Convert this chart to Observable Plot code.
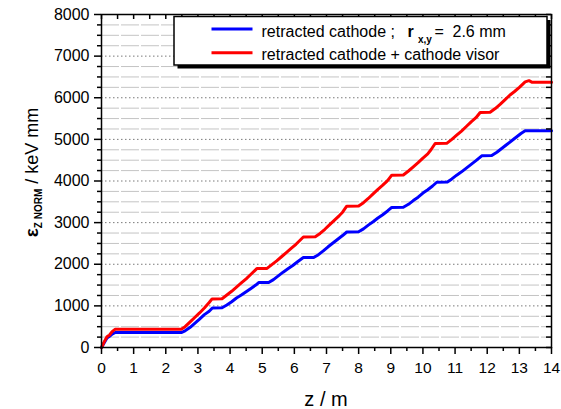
<!DOCTYPE html>
<html>
<head>
<meta charset="utf-8">
<script src="https://cdn.jsdelivr.net/npm/d3@7"></script>
<script src="https://cdn.jsdelivr.net/npm/@observablehq/plot@0.6"></script>
<style>
  html, body { margin: 0; padding: 0; background: #fff; }
  svg { display: block; }
</style>
</head>
<body>
<div id="chart"></div>
<script>
// ---- data ----
const seriesNames = ["retracted cathode ;", "retracted cathode + cathode visor"];
const seriesColors = ["#0000ff", "#ff0000"];

const zBlue = [0,0.08,0.17,0.25,0.33,0.43,2.48,2.6,2.75,2.9,3.05,3.2,3.35,3.45,3.75,3.9,4.05,4.2,4.35,4.5,4.65,4.8,4.89,5.2,5.35,5.5,5.65,5.8,5.95,6.1,6.28,6.6,6.75,6.9,7.05,7.2,7.35,7.5,7.63,8.0,8.15,8.3,8.45,8.6,8.75,8.9,9.03,9.39,9.55,9.7,9.85,10.0,10.15,10.3,10.43,10.76,10.9,11.05,11.2,11.35,11.5,11.65,11.83,12.14,12.3,12.45,12.6,12.75,12.9,13.05,13.18,14];
const emitBlue = [0,110,230,270,320,360,360,400,480,580,680,790,870,950,955,1020,1100,1190,1260,1340,1420,1500,1560,1560,1630,1720,1810,1890,1970,2060,2160,2160,2230,2320,2420,2510,2600,2690,2775,2780,2850,2940,3020,3110,3190,3280,3365,3370,3440,3530,3610,3710,3790,3880,3970,3975,4050,4140,4220,4310,4400,4490,4605,4610,4690,4780,4870,4960,5050,5140,5205,5205];

const zRed = [0,0.08,0.17,0.25,0.33,0.43,2.48,2.6,2.75,2.9,3.05,3.2,3.35,3.44,3.75,3.9,4.05,4.2,4.35,4.5,4.65,4.84,5.15,5.3,5.45,5.6,5.75,5.9,6.05,6.28,6.65,6.8,6.95,7.1,7.25,7.4,7.5,7.63,8.0,8.15,8.3,8.45,8.6,8.75,8.9,9.03,9.39,9.55,9.7,9.85,10.0,10.15,10.25,10.38,10.74,10.9,11.05,11.2,11.35,11.5,11.65,11.78,12.09,12.25,12.4,12.55,12.7,12.85,13.0,13.18,13.3,13.4,14];
const emitRed = [0,130,260,300,380,440,440,500,610,720,830,950,1080,1168,1170,1260,1350,1450,1550,1650,1760,1900,1900,1990,2080,2180,2280,2380,2480,2655,2660,2740,2840,2950,3060,3170,3250,3395,3400,3480,3580,3690,3800,3900,4010,4140,4145,4240,4340,4440,4550,4650,4750,4900,4905,5000,5100,5200,5310,5420,5520,5645,5650,5740,5840,5950,6060,6150,6250,6380,6410,6370,6370];

const xMajorTicks = [0,1,2,3,4,5,6,7,8,9,10,11,12,13,14];
const xMinorTicks = [0.5,1.5,2.5,3.5,4.5,5.5,6.5,7.5,8.5,9.5,10.5,11.5,12.5,13.5];
const yMajorTicks = [0,1000,2000,3000,4000,5000,6000,7000,8000];
const yMinorTicks = [250,500,750,1250,1500,1750,2250,2500,2750,3250,3500,3750,4250,4500,4750,5250,5500,5750,6250,6500,6750,7250,7500,7750];
const yGridMajor = [1000,2000,3000,4000,5000,6000,7000];

const xLabel = "z / m";
const yLabelMain = "ε";
const yLabelSub = "Z NORM";
const yLabelRest = " / keV mm";
const legendRadius = "2.6 mm";

const blue = zBlue.map((z, i) => ({z, e: emitBlue[i]}));
const red = zRed.map((z, i) => ({z, e: emitRed[i]}));

const W = 561, H = 409;
const mL = 101, mR = 10, mT = 14, mB = 62;
const pw = W - mL - mR, ph = H - mT - mB;
const font = "'Liberation Sans', Arial, sans-serif";

const svg = Plot.plot({
  width: W, height: H,
  marginLeft: mL, marginRight: mR, marginTop: mT, marginBottom: mB,
  style: {fontFamily: font, background: "#fff", color: "#000"},
  x: {domain: [0, 14]},
  y: {domain: [0, 8000]},
  marks: [
    Plot.ruleY(yMinorTicks, {stroke: "#c4c4c4", strokeWidth: 1, strokeDasharray: "18,2"}),
    Plot.ruleY(yGridMajor, {stroke: "#7a7a7a", strokeWidth: 1, strokeDasharray: "1.5,2.5"}),
    Plot.line(blue, {x: "z", y: "e", stroke: seriesColors[0], strokeWidth: 3, strokeLinejoin: "round"}),
    Plot.line(red, {x: "z", y: "e", stroke: seriesColors[1], strokeWidth: 3, strokeLinejoin: "round"}),
    // left axis
    Plot.axisY(yMajorTicks, {anchor: "left", tickSize: 7, tickPadding: 5, fontSize: 16, strokeWidth: 1.5, tickFormat: d => String(d), label: null}),
    Plot.axisY(yMinorTicks, {anchor: "left", tickSize: 4, strokeWidth: 1.5, tickFormat: () => "", label: null}),
    // bottom axis
    Plot.axisX(xMajorTicks, {anchor: "bottom", tickSize: 7, tickPadding: 7, fontSize: 15.5, strokeWidth: 1.5, tickFormat: d => String(d), label: null}),
    Plot.axisX(xMinorTicks, {anchor: "bottom", tickSize: 4, strokeWidth: 1.5, tickFormat: () => "", label: null}),
    // inward ticks on right and top
    Plot.tickY(yMajorTicks.concat(yMinorTicks), {y: d => d, stroke: "#000", strokeWidth: 1.5, insetLeft: pw - 5}),
    Plot.tickX(xMajorTicks.concat(xMinorTicks), {x: d => d, stroke: "#000", strokeWidth: 1.5, insetBottom: ph - 5}),
    Plot.frame({stroke: "#000", strokeWidth: 1.5})
  ]
});

const s = d3.select(svg);

// x axis title
s.append("text")
  .attr("x", mL + pw / 2).attr("y", 406)
  .attr("text-anchor", "middle")
  .attr("font-family", font).attr("font-size", 20).attr("fill", "#000")
  .text(xLabel);

// y axis title
const yt = s.append("text")
  .attr("transform", `translate(38,${mT + ph / 2 - 8}) rotate(-90)`)
  .attr("text-anchor", "middle")
  .attr("font-family", font).attr("font-size", 18).attr("fill", "#000");
yt.append("tspan").attr("font-weight", "bold").attr("font-size", 19).text(yLabelMain);
yt.append("tspan").attr("font-weight", "bold").attr("font-size", 10).attr("dy", 4).text(yLabelSub);
yt.append("tspan").attr("dy", -4).text(yLabelRest);

// legend
const lg = s.append("g").attr("text-anchor", "start");
lg.append("rect").attr("x", 177.5).attr("y", 20).attr("width", 373).attr("height", 48.5).attr("fill", "#000");
lg.append("rect").attr("x", 174).attr("y", 16.5).attr("width", 373).attr("height", 48.5)
  .attr("fill", "#fff").attr("stroke", "#000").attr("stroke-width", 1.5);
const rows = [29, 52.7];
rows.forEach((y, i) => {
  lg.append("line").attr("x1", 211.5).attr("x2", 252.5).attr("y1", y).attr("y2", y)
    .attr("stroke", seriesColors[i]).attr("stroke-width", 3);
});
const t1 = lg.append("text").attr("x", 261.5).attr("y", 37.3).attr("text-anchor", "start")
  .attr("font-family", font).attr("font-size", 16).attr("fill", "#000");
t1.append("tspan").text(seriesNames[0]);
t1.append("tspan").attr("x", 407.5).attr("font-weight", "bold").text("r");
t1.append("tspan").attr("x", 418).attr("dy", 6).attr("font-weight", "bold").attr("font-size", 10).text("x,y");
t1.append("tspan").attr("x", 434.5).attr("dy", -6).text("=");
t1.append("tspan").attr("x", 452.5).text(legendRadius);
lg.append("text").attr("x", 261.5).attr("y", 60).attr("text-anchor", "start")
  .attr("font-family", font).attr("font-size", 16).attr("fill", "#000")
  .text(seriesNames[1]);

document.getElementById("chart").appendChild(svg);
</script>
</body>
</html>
